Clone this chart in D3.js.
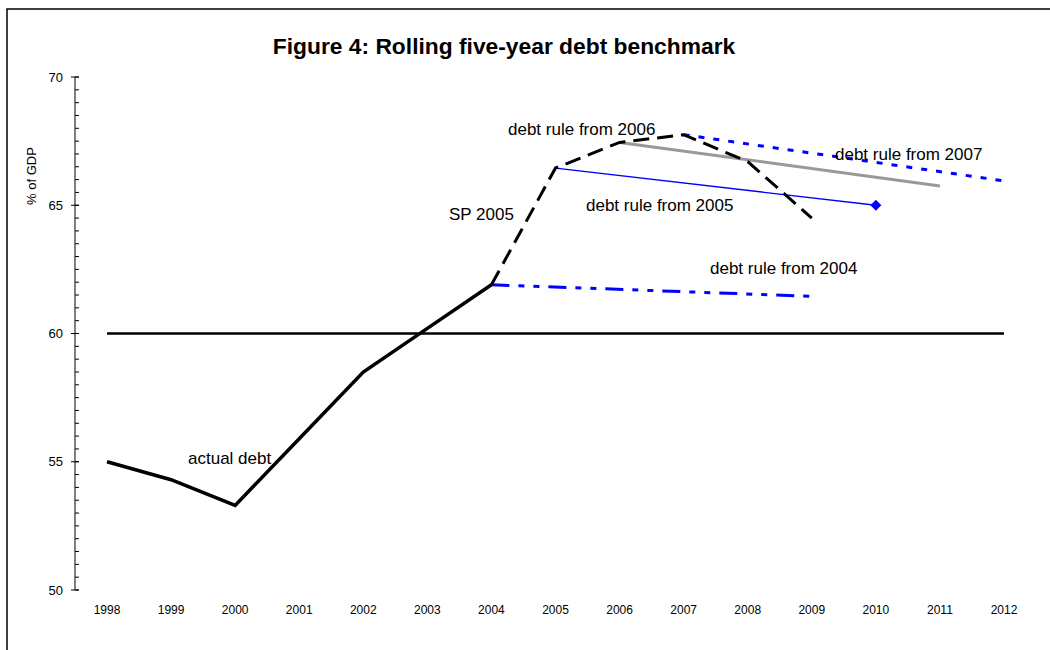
<!DOCTYPE html>
<html><head><meta charset="utf-8">
<script src="https://cdn.jsdelivr.net/npm/d3@7"></script>
<style>body{margin:0;background:#fff}svg{display:block;font-family:"Liberation Sans",Arial,sans-serif}</style>
</head><body><svg id="c" width="1050" height="650"></svg>
<script>
const years = [1998,1999,2000,2001,2002,2003,2004,2005,2006,2007,2008,2009,2010,2011,2012];
const actualYears = [1998,1999,2000,2001,2002,2003,2004];
const actualDebt = [55.0,54.3,53.3,55.9,58.5,60.2,61.9];
const sp2005Years = [2004,2005,2006,2007,2008,2009];
const sp2005 = [61.9,66.45,67.45,67.75,66.7,64.5];
const rule2004Years = [2004,2009];
const rule2004 = [61.9,61.45];
const rule2005Years = [2005,2010];
const rule2005 = [66.45,65.0];
const rule2006Years = [2006,2011];
const rule2006 = [67.45,65.75];
const rule2007Years = [2007,2012];
const rule2007 = [67.75,65.95];
const refYears = [1998,2012];
const refLine = [60,60];
const yTicks = [50,55,60,65,70];

const svg = d3.select("#c");
svg.append("rect").attr("x",7).attr("y",9).attr("width",1200).attr("height",800)
  .attr("fill","none").attr("stroke","#000").attr("stroke-width",1.5);

const x = d3.scalePoint().domain(years).range([107,1004]);
const y = d3.scaleLinear().domain([50,70]).range([590,77]);

svg.append("text").attr("x",504).attr("y",54).attr("text-anchor","middle")
  .attr("font-weight","bold").attr("font-size",22.8).text("Figure 4: Rolling five-year debt benchmark");

// y axis
const ax = 75;
svg.append("line").attr("x1",ax).attr("x2",ax).attr("y1",y(70)).attr("y2",y(50)).attr("stroke","#000").attr("stroke-width",1);
const minor = d3.range(50,70.01,0.5);
svg.selectAll(".mt").data(minor).join("line").attr("x1",ax).attr("x2",ax+4)
  .attr("y1",d=>y(d)).attr("y2",d=>y(d)).attr("stroke","#000").attr("stroke-width",1);
svg.selectAll(".Mt").data(yTicks).join("line").attr("x1",ax-4).attr("x2",ax+4)
  .attr("y1",d=>y(d)).attr("y2",d=>y(d)).attr("stroke","#000").attr("stroke-width",1);
svg.selectAll(".yl").data(yTicks).join("text").attr("x",ax-12).attr("y",d=>y(d)+4.5)
  .attr("text-anchor","end").attr("font-size",13).text(d=>d);
svg.append("text").attr("transform","translate(36,176) rotate(-90)").attr("text-anchor","middle")
  .attr("font-size",13).text("% of GDP");

// x labels
svg.selectAll(".xl").data(years).join("text").attr("x",d=>x(d)).attr("y",614)
  .attr("text-anchor","middle").attr("font-size",12).text(d=>d);

const line = d3.line().x(d=>x(d[0])).y(d=>y(d[1]));
const pts = (ys,vs)=>ys.map((d,i)=>[d,vs[i]]);

svg.append("path").attr("d",line(pts(refYears,refLine))).attr("fill","none").attr("stroke","#000").attr("stroke-width",2.5);
svg.append("path").attr("d",line(pts(rule2004Years,rule2004))).attr("fill","none").attr("stroke","#0000ff")
  .attr("stroke-width",3).attr("stroke-dasharray","18 9 6 9 6 9");
svg.append("path").attr("d",line(pts(rule2006Years,rule2006))).attr("fill","none").attr("stroke","#999")
  .attr("stroke-width",3);
svg.append("path").attr("d",line(pts(rule2007Years,rule2007))).attr("fill","none").attr("stroke","#0000ff")
  .attr("stroke-width",3).attr("stroke-dasharray","6 9");
svg.append("path").attr("d",line(pts(rule2005Years,rule2005))).attr("fill","none").attr("stroke","#0000ff")
  .attr("stroke-width",1.3);
svg.append("path").attr("d",d3.symbol(d3.symbolSquare,60)())
  .attr("transform",`translate(${x(rule2005Years[1])},${y(rule2005[1])}) rotate(45)`).attr("fill","#0000ff");
svg.append("path").attr("d",line(pts(sp2005Years,sp2005))).attr("fill","none").attr("stroke","#000")
  .attr("stroke-width",3).attr("stroke-dasharray","16 8");
svg.append("path").attr("d",line(pts(actualYears,actualDebt))).attr("fill","none").attr("stroke","#000")
  .attr("stroke-width",3.5).attr("stroke-linejoin","miter");

const labels = [
  ["actual debt",188,464],["SP 2005",449,220],["debt rule from 2006",508,135],
  ["debt rule from 2007",835,160],["debt rule from 2005",586,211],["debt rule from 2004",710,274]
];
svg.selectAll(".lb").data(labels).join("text").attr("x",d=>d[1]).attr("y",d=>d[2])
  .attr("font-size",17).text(d=>d[0]);
</script></body></html>
